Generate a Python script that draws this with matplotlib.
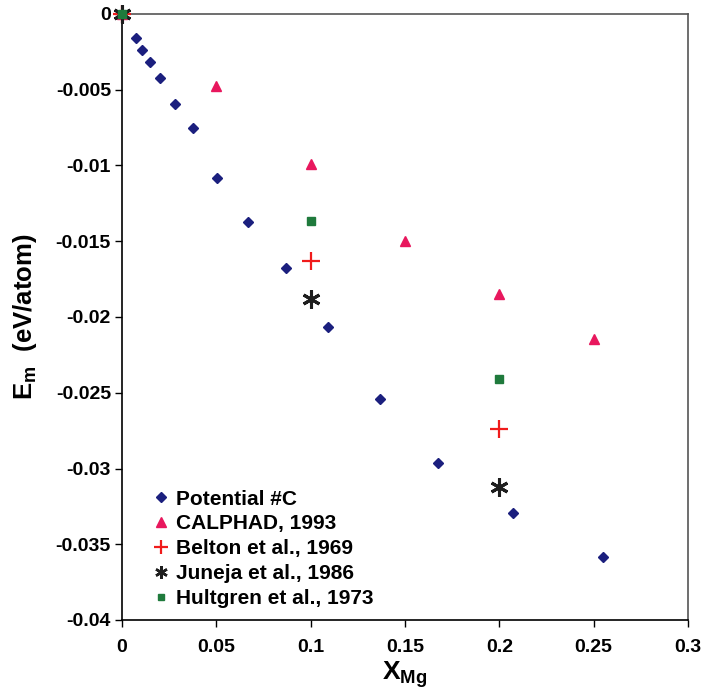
import matplotlib
matplotlib.use("Agg")
import matplotlib.pyplot as plt

plt.rcParams['font.family'] = ['Liberation Sans', 'DejaVu Sans']
plt.rcParams['font.weight'] = 'bold'
plt.rcParams['mathtext.fontset'] = 'custom'
plt.rcParams['mathtext.rm'] = 'Liberation Sans:bold'
plt.rcParams['mathtext.bf'] = 'Liberation Sans:bold'
plt.rcParams['mathtext.it'] = 'Liberation Sans:bold'

# Data
pot_x = [0.0, 0.0074, 0.0108, 0.0148, 0.0203, 0.0281, 0.0376, 0.0504, 0.0667,
         0.0868, 0.1092, 0.1366, 0.1677, 0.2071, 0.2550]
pot_y = [0.0, -0.00156, -0.00238, -0.00317, -0.00424, -0.00594, -0.00752, -0.01085,
         -0.01373, -0.01679, -0.02064, -0.02540, -0.02962, -0.03294, -0.03582]
calphad_x = [0.0, 0.05, 0.10, 0.15, 0.20, 0.25]
calphad_y = [0.0, -0.00475, -0.0099, -0.01496, -0.0185, -0.02145]
belton_x = [0.0, 0.10, 0.20]
belton_y = [0.0, -0.0163, -0.0274]
juneja_x = [0.0, 0.10, 0.20]
juneja_y = [0.0, -0.0188, -0.03124]
hult_x = [0.0, 0.10, 0.20]
hult_y = [0.0, -0.01366, -0.02411]

labels = ["Potential #C", "CALPHAD, 1993", "Belton et al., 1969",
          "Juneja et al., 1986", "Hultgren et al., 1973"]
xticks = [0, 0.05, 0.1, 0.15, 0.2, 0.25, 0.3]
xticklabels = ["0", "0.05", "0.1", "0.15", "0.2", "0.25", "0.3"]
yticks = [0, -0.005, -0.01, -0.015, -0.02, -0.025, -0.03, -0.035, -0.04]
yticklabels = ["0", "-0.005", "-0.01", "-0.015", "-0.02", "-0.025", "-0.03", "-0.035", "-0.04"]

fig = plt.figure(figsize=(7.06, 7.0), dpi=100)
ax = fig.add_axes([122/706, 1-620/700, (688-122)/706, (620-14)/700])

ax.plot(pot_x, pot_y, linestyle='none', marker='D', ms=4.6, color='#1b1f7e',
        label=labels[0], zorder=3, clip_on=False)
ax.plot(calphad_x, calphad_y, linestyle='none', marker='^', ms=7, color='#e8175d',
        label=labels[1], zorder=3, clip_on=False)
ax.plot(belton_x, belton_y, linestyle='none', marker='+', ms=13, mew=1.6, color='#f01b1b',
        label=labels[2], zorder=4, clip_on=False)
ax.plot(juneja_x, juneja_y, linestyle='none', marker=(6, 2, 0), ms=13, mew=2.2, color='#1e1e1e',
        label=labels[3], zorder=4, clip_on=False)
ax.plot(hult_x, hult_y, linestyle='none', marker='s', ms=5.5, color='#1f7a3c',
        label=labels[4], zorder=5, clip_on=False)

ax.set_xlim(0, 0.3)
ax.set_ylim(-0.04, 0)
ax.set_xticks(xticks)
ax.set_xticklabels(xticklabels)
ax.set_yticks(yticks)
ax.set_yticklabels(yticklabels)
ax.tick_params(direction='out', length=5, width=1, labelsize=14, pad=3)
ax.tick_params(axis='x', pad=9)
for lab in ax.get_xticklabels() + ax.get_yticklabels():
    lab.set_fontweight('bold')
for s in ax.spines.values():
    s.set_linewidth(1.2)
ax.spines['top'].set_color('#555555')
ax.spines['right'].set_color('#555555')

ax.set_xlabel(r'$\mathrm{X_{Mg}}$', fontsize=19, labelpad=2)
ax.set_ylabel(r'$\mathrm{E_m}$  (eV/atom)', fontsize=18.5, fontweight='bold', labelpad=12)

leg = ax.legend(loc='lower left', bbox_to_anchor=((153 - 122) / 566, 0.02),
                frameon=False, prop={'size': 15, 'weight': 'bold'},
                handletextpad=0.3, handlelength=0.8, labelspacing=0.28,
                borderaxespad=0.0, borderpad=0.0, numpoints=1)
for h in leg.legend_handles:
    h.set_clip_on(False)
leg.legend_handles[2].set_markersize(10)
leg.legend_handles[3].set_markersize(9)
leg.legend_handles[3].set_markeredgewidth(1.8)
leg.legend_handles[4].set_markersize(4.5)

fig.savefig('out.png', dpi=100)
